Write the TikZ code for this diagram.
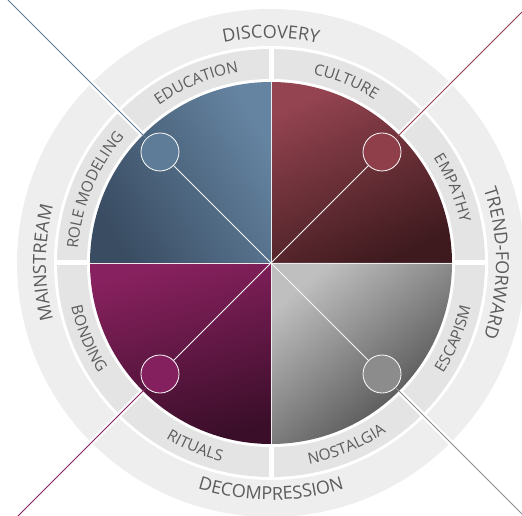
\documentclass[tikz,border=0pt]{standalone}
\usepackage{fontspec}
\setmainfont{Open Sans}
\usetikzlibrary{decorations.text}

\definecolor{bandgray}{HTML}{EEEEEE}
\definecolor{seggray}{HTML}{E4E4E4}
\definecolor{labelgray}{HTML}{5C5C5C}
\definecolor{blueA}{HTML}{394C62}
\definecolor{blueB}{HTML}{6584A1}
\definecolor{redA}{HTML}{944450}
\definecolor{redB}{HTML}{3E1A1E}
\definecolor{purA}{HTML}{88215F}
\definecolor{purB}{HTML}{3A0E29}
\definecolor{greyA}{HTML}{BFBFBF}
\definecolor{greyB}{HTML}{474747}
\definecolor{blueC}{HTML}{5E7C98}
\definecolor{redC}{HTML}{8E3F4A}
\definecolor{purC}{HTML}{85205F}
\definecolor{greyC}{HTML}{8C8C8C}

\newcommand{\bandfont}{\fontsize{18}{20}\selectfont}
\newcommand{\segfont}{\fontsize{15.5}{17}\selectfont}

\begin{document}
\begin{tikzpicture}[x=1pt,y=1pt,
    ringlabel/.style={decorate, decoration={text along path, text align=center,
        text color=labelgray, text={#1}}},
    marker/.style={circle, draw=white, line width=0.8, minimum size=38, inner sep=0},
    spoke/.style={white!92!gray, line width=0.8}]
            \useasboundingbox (-271,-253) rectangle (251,263);

            % rings
            \fill[bandgray] (0,0) circle (254);
            \fill[white] (0,0) circle (217);
            \fill[seggray] (0,0) circle (214);
            \fill[white] (0,0) circle (184);
            \foreach \a in {45,135,225,315}
                \draw[white, line width=5] (\a:180) -- (\a:258);
            \foreach \a in {0,90,180,270}
                \draw[white, line width=5] (\a:182) -- (\a:216);

            % quadrants
            \shade[top color=blueB, bottom color=blueA, shading angle=-60] (0,0) -- (90:181) arc (90:180:181) -- cycle;
            \shade[top color=redA, bottom color=redB, shading angle=25] (0,0) -- (0:181) arc (0:90:181) -- cycle;
            \shade[top color=purA, bottom color=purB, shading angle=15] (0,0) -- (180:181) arc (180:270:181) -- cycle;
            \shade[top color=greyA, bottom color=greyB, shading angle=40] (0,0) -- (270:181) arc (270:360:181) -- cycle;
            \draw[white!85!gray, line width=0.8] (-181,0) -- (181,0);
            \draw[white!85!gray, line width=0.8] (0,-181) -- (0,181);

            % outer labels
            \path[ringlabel={|\bandfont|DISCOVERY}] (135:225) arc (135:45:225);
            \path[ringlabel={|\bandfont|MAINSTREAM}] (225:225) arc (225:135:225);
            \path[ringlabel={|\bandfont|TREND-FORWARD}] (45:225) arc (45:-45:225);
            \path[ringlabel={|\bandfont|DECOMPRESSION}] (225:237) arc (225:315:237);

            % inner labels
            \path[ringlabel={|\segfont|EDUCATION}] (135:193.5) arc (135:90:193.5);
            \path[ringlabel={|\segfont|CULTURE}] (90:193.5) arc (90:45:193.5);
            \path[ringlabel={|\segfont|EMPATHY}] (45:193.5) arc (45:0:193.5);
            \path[ringlabel={|\segfont|ROLE MODELING}] (180:193.5) arc (180:135:193.5);
            \path[ringlabel={|\segfont|BONDING}] (180:204.5) arc (180:225:204.5);
            \path[ringlabel={|\segfont|RITUALS}] (225:204.5) arc (225:270:204.5);
            \path[ringlabel={|\segfont|NOSTALGIA}] (270:204.5) arc (270:315:204.5);
            \path[ringlabel={|\segfont|ESCAPISM}] (315:204.5) arc (315:360:204.5);

            \coordinate (O) at (0,0);
            \node[marker, fill=blueC] (edu) at (135:157) {};
            \node[marker, fill=redC] (cul) at (45:157) {};
            \node[marker, fill=purC] (bon) at (225:157) {};
            \node[marker, fill=greyC] (esc) at (315:157) {};
            \coordinate (eduend) at (-263,263);
            \coordinate (culend) at (251,251);
            \coordinate (bonend) at (-253,-253);
            \coordinate (escend) at (251,-251);

            \draw[spoke] (O) -- (edu);
            \draw[spoke] (O) -- (cul);
            \draw[spoke] (O) -- (bon);
            \draw[spoke] (O) -- (esc);
            \draw[blueC, line width=0.8] (edu) -- (eduend);
            \draw[redC, line width=0.8] (cul) -- (culend);
            \draw[purC, line width=0.8] (bon) -- (bonend);
            \draw[greyC, line width=0.8] (esc) -- (escend);
        \end{tikzpicture}
\end{document}
